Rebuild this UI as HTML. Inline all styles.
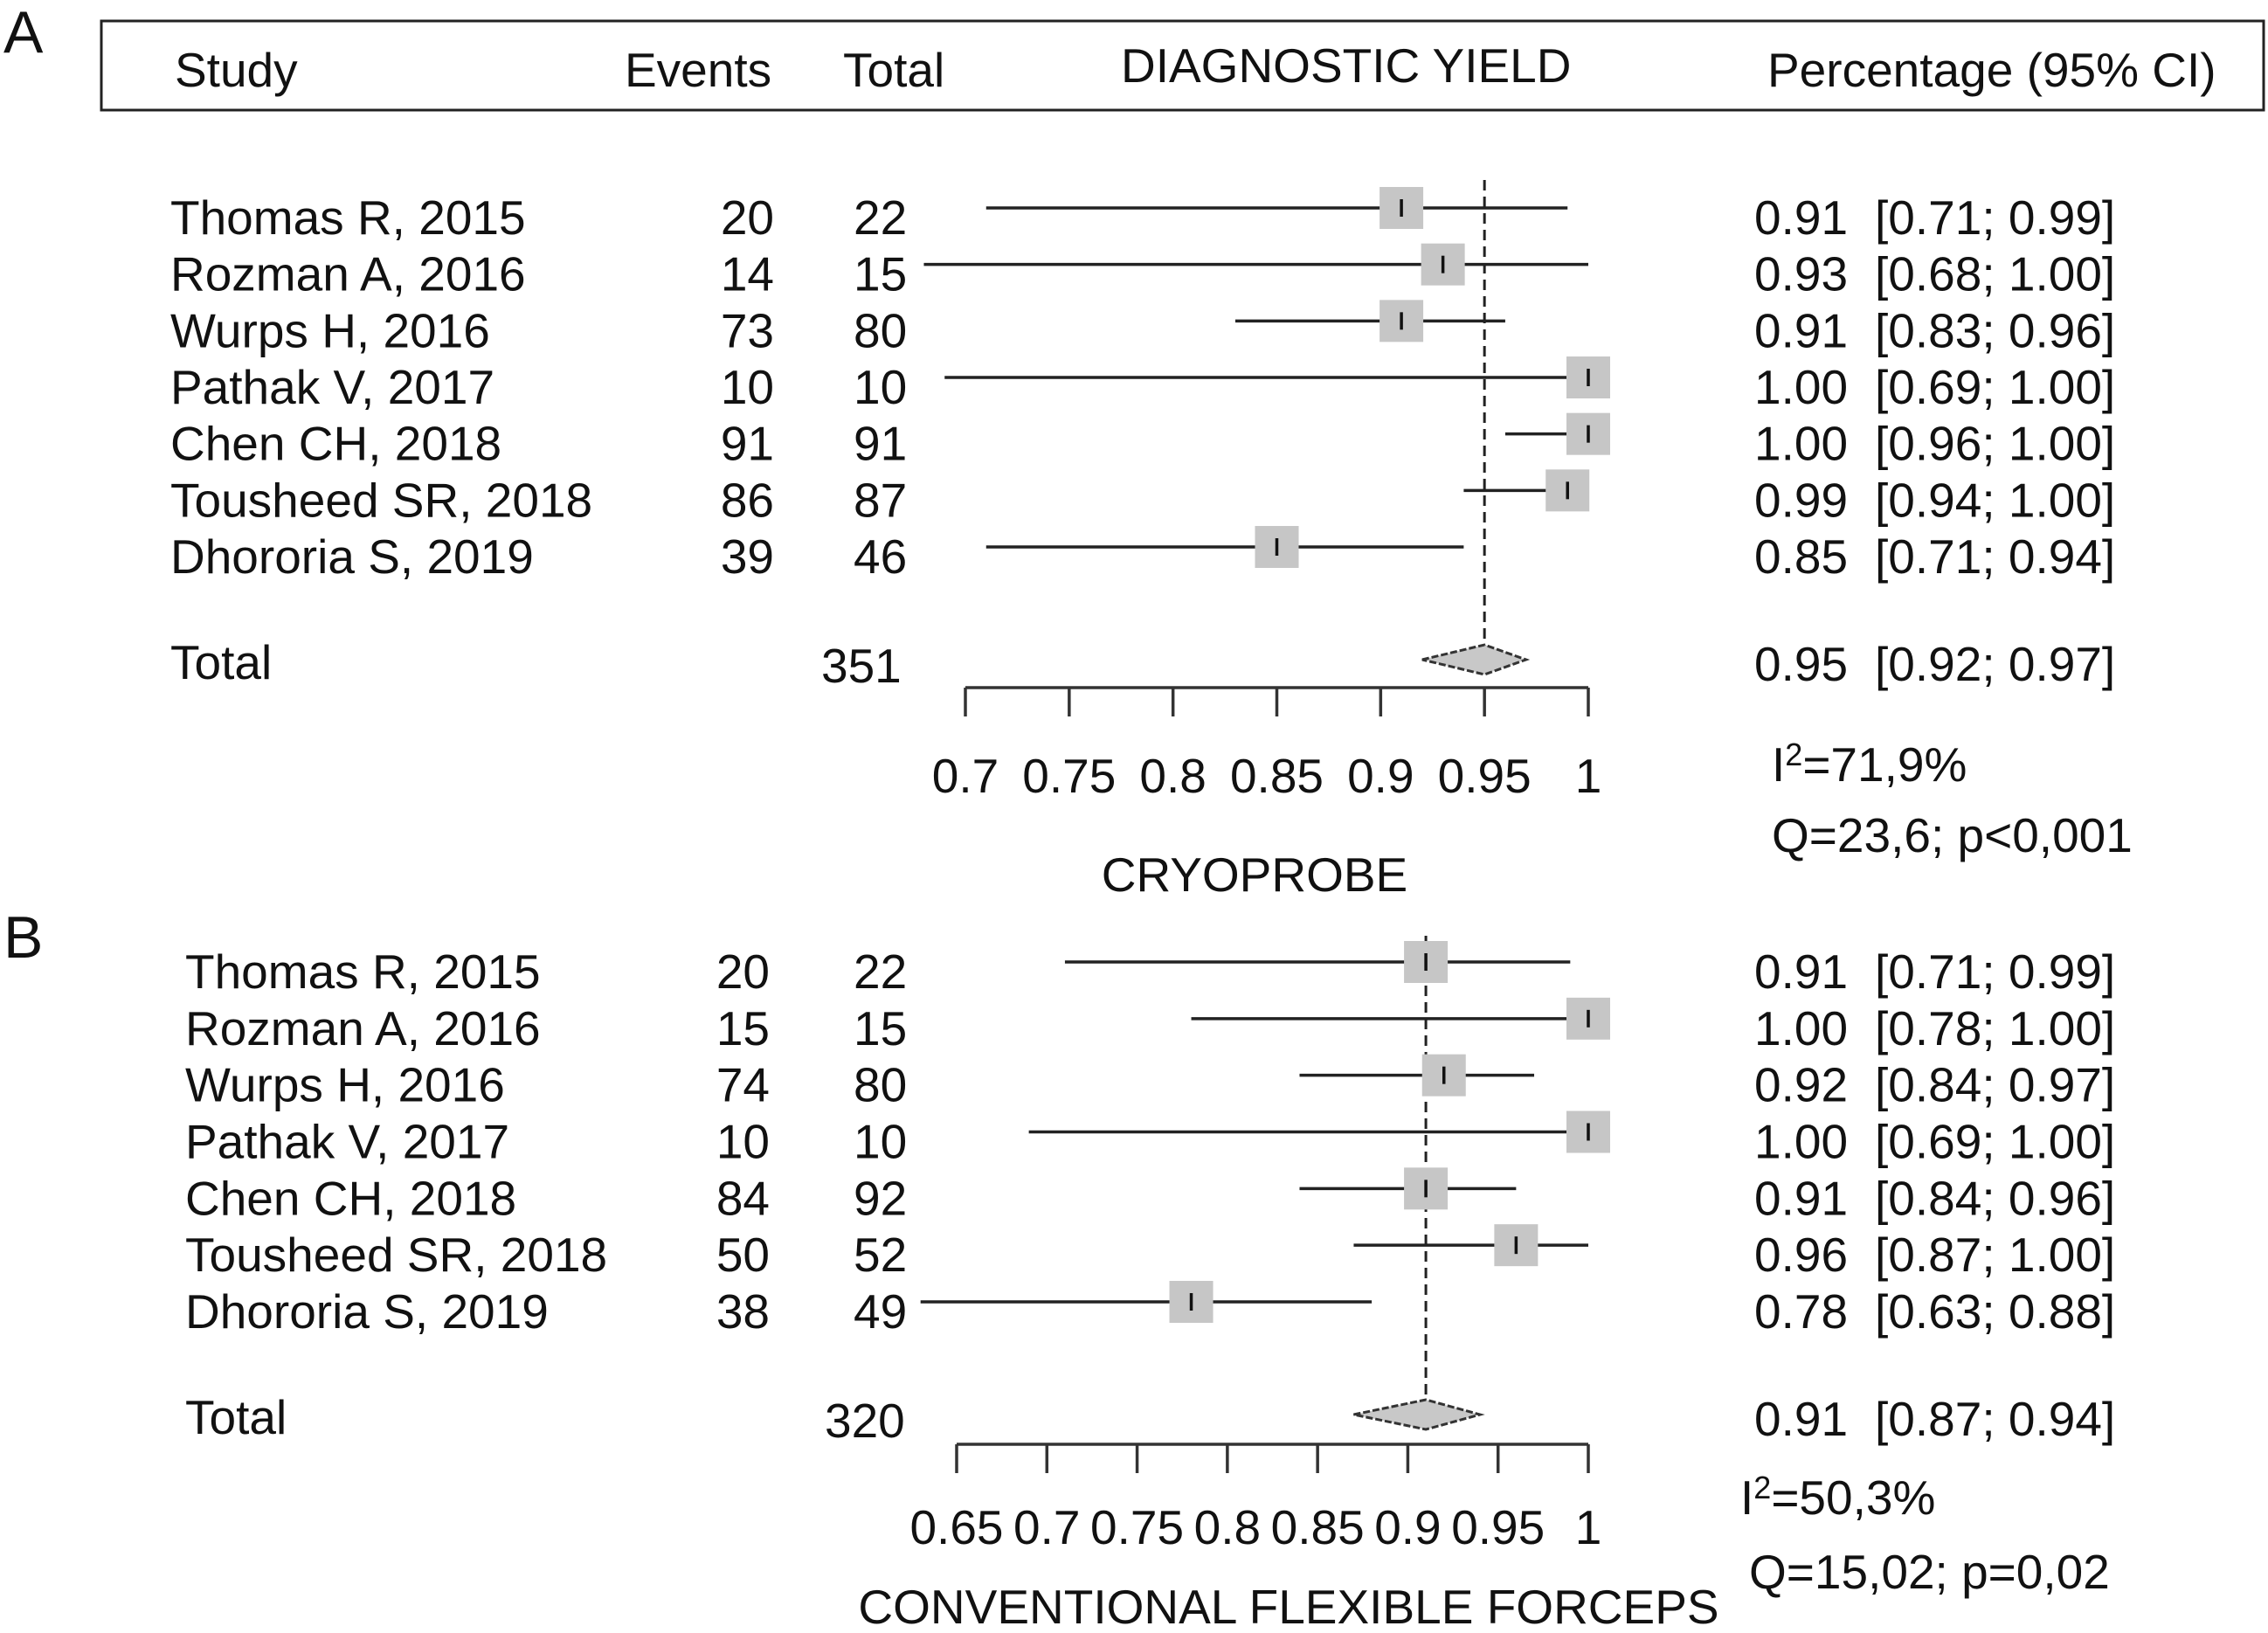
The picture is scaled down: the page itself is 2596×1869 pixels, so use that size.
<!DOCTYPE html>
<html><head><meta charset="utf-8"><style>
html,body{margin:0;padding:0;background:#fff;}
svg{display:block;font-family:"Liberation Sans",Arial,sans-serif;}
text{fill:#111;font-size:55px;}
</style></head><body>
<svg id="c" width="2596" height="1869" viewBox="0 0 2596 1869" xmlns="http://www.w3.org/2000/svg">
<rect x="0" y="0" width="2596" height="1869" fill="#fff"/>
<text x="4" y="60" style="font-size:68px">A</text>
<text x="4" y="1096" style="font-size:68px">B</text>
<rect x="116" y="24" width="2475" height="102" fill="none" stroke="#222" stroke-width="3"/>
<text x="200" y="99">Study</text>
<text x="715" y="99">Events</text>
<text x="965" y="99">Total</text>
<text x="1283" y="94">DIAGNOSTIC YIELD</text>
<text x="2023" y="99">Percentage (95% CI)</text>
<text x="1436" y="1020" text-anchor="middle">CRYOPROBE</text>
<text x="1475" y="1858" text-anchor="middle">CONVENTIONAL FLEXIBLE FORCEPS</text>
<text x="2028" y="894">I<tspan dy="-18" font-size="36">2</tspan><tspan dy="18">=71,9%</tspan></text>
<text x="2028" y="975">Q=23,6; p&lt;0,001</text>
<text x="1992" y="1733">I<tspan dy="-18" font-size="36">2</tspan><tspan dy="18">=50,3%</tspan></text>
<text x="2002" y="1818">Q=15,02; p=0,02</text>
</svg>
<script>
const studiesA = ["Thomas R, 2015","Rozman A, 2016","Wurps H, 2016","Pathak V, 2017","Chen CH, 2018","Tousheed SR, 2018","Dhororia S, 2019"];
const eventsA = [20,14,73,10,91,86,39];
const totalsA = [22,15,80,10,91,87,46];
const meanA = [0.91,0.93,0.91,1.00,1.00,0.99,0.85];
const lowA = [0.71,0.68,0.83,0.69,0.96,0.94,0.71];
const highA = [0.99,1.00,0.96,1.00,1.00,1.00,0.94];
const pooledA = [0.95,0.92,0.97];
const sumTotalA = 351;
const refA = 0.95;
const ticksA = [0.7,0.75,0.8,0.85,0.9,0.95,1];
const tickLabelsA = ["0.7","0.75","0.8","0.85","0.9","0.95","1"];

const studiesB = ["Thomas R, 2015","Rozman A, 2016","Wurps H, 2016","Pathak V, 2017","Chen CH, 2018","Tousheed SR, 2018","Dhororia S, 2019"];
const eventsB = [20,15,74,10,84,50,38];
const totalsB = [22,15,80,10,92,52,49];
const meanB = [0.91,1.00,0.92,1.00,0.91,0.96,0.78];
const lowB = [0.71,0.78,0.84,0.69,0.84,0.87,0.63];
const highB = [0.99,1.00,0.97,1.00,0.96,1.00,0.88];
const pooledB = [0.91,0.87,0.94];
const sumTotalB = 320;
const refB = 0.91;
const ticksB = [0.65,0.7,0.75,0.8,0.85,0.9,0.95,1];
const tickLabelsB = ["0.65","0.7","0.75","0.8","0.85","0.9","0.95","1"];

const NS = "http://www.w3.org/2000/svg";
const svg = document.getElementById("c");
function mk(tag, attrs, txt){
  const e = document.createElementNS(NS, tag);
  for (const k in attrs) e.setAttribute(k, attrs[k]);
  if (txt !== undefined) e.textContent = txt;
  svg.appendChild(e);
  return e;
}
function fmt(v){ return v.toFixed(2); }

function panel(cfg){
  const x = v => cfg.x0 + (v - cfg.d0) / (cfg.d1 - cfg.d0) * (cfg.x1 - cfg.x0);
  const n = cfg.studies.length;
  const y = i => cfg.yTop + i * (cfg.yBot - cfg.yTop) / (n - 1);
  let e = mk("line", {x1:x(cfg.ref), x2:x(cfg.ref), y1:cfg.dashTop, y2:cfg.diaY - 12, stroke:"#222", "stroke-width":3, "stroke-dasharray":"12 7"});
  
  
  for (let i = 0; i < n; i++){
    const yy = y(i);
    e = mk("line", {x1:x(cfg.low[i]), x2:x(cfg.high[i]), y1:yy, y2:yy, stroke:"#222", "stroke-width":3.5});
    
    
    e = mk("rect", {x:x(cfg.mean[i]) - 25, y:yy - 24, width:50, height:48, fill:"#c6c6c6"});
    
    
    e = mk("line", {x1:x(cfg.mean[i]), x2:x(cfg.mean[i]), y1:yy - 10, y2:yy + 10, stroke:"#111", "stroke-width":3.5});
    
    
    const by = yy + 30;
    e = mk("text", {x:cfg.nameX, y:by}, cfg.studies[i]);
    
    
    e = mk("text", {x:cfg.evX, y:by, "text-anchor":"end"}, String(cfg.events[i]));
    
    
    e = mk("text", {x:977, y:by}, String(cfg.totals[i]));
    
    
    e = mk("text", {x:2008, y:by}, fmt(cfg.mean[i]));
    
    
    e = mk("text", {x:2146, y:by}, "[" + fmt(cfg.low[i]) + "; " + fmt(cfg.high[i]) + "]");
    
    
  }
  const dy = cfg.diaY;
  e = mk("polygon", {points:[x(cfg.pooled[1])+","+dy, x(cfg.pooled[0])+","+(dy-17), x(cfg.pooled[2])+","+dy, x(cfg.pooled[0])+","+(dy+17)].join(" "), fill:"#c8c8c8", stroke:"#333", "stroke-width":3, "stroke-dasharray":"8 3"});
  
  
  const tb = dy + 22;
  e = mk("text", {x:cfg.nameX, y:tb}, "Total");
  
  
  e = mk("text", {x:cfg.sumX, y:tb + 4}, String(cfg.sum));
  
  
  e = mk("text", {x:2008, y:tb + 2}, fmt(cfg.pooled[0]));
  
  
  e = mk("text", {x:2146, y:tb + 2}, "[" + fmt(cfg.pooled[1]) + "; " + fmt(cfg.pooled[2]) + "]");
  
  
  e = mk("line", {x1:x(cfg.ticks[0]), x2:x(cfg.ticks[cfg.ticks.length-1]), y1:cfg.axY, y2:cfg.axY, stroke:"#333", "stroke-width":3.5});
  
  
  cfg.ticks.forEach((t, j) => {
    let el = mk("line", {x1:x(t), x2:x(t), y1:cfg.axY, y2:cfg.axY + 33, stroke:"#333", "stroke-width":3.5});
    
    
    el = mk("text", {x:x(t), y:cfg.lblY, "text-anchor":"middle"}, cfg.tickLabels[j]);
    
    
  });
}

panel({p:"panel-a", studies:studiesA, events:eventsA, totals:totalsA, mean:meanA, low:lowA, high:highA,
  pooled:pooledA, sum:sumTotalA, ref:refA, ticks:ticksA, tickLabels:tickLabelsA,
  d0:0.7, d1:1, x0:1105, x1:1818, yTop:238, yBot:626, diaY:755, dashTop:206, axY:787, lblY:907,
  nameX:195, evX:886, sumX:940});
panel({p:"panel-b", studies:studiesB, events:eventsB, totals:totalsB, mean:meanB, low:lowB, high:highB,
  pooled:pooledB, sum:sumTotalB, ref:refB, ticks:ticksB, tickLabels:tickLabelsB,
  d0:0.65, d1:1, x0:1095, x1:1818, yTop:1101, yBot:1490, diaY:1619, dashTop:1071, axY:1653, lblY:1767,
  nameX:212, evX:881, sumX:944});
</script>
</body></html>
